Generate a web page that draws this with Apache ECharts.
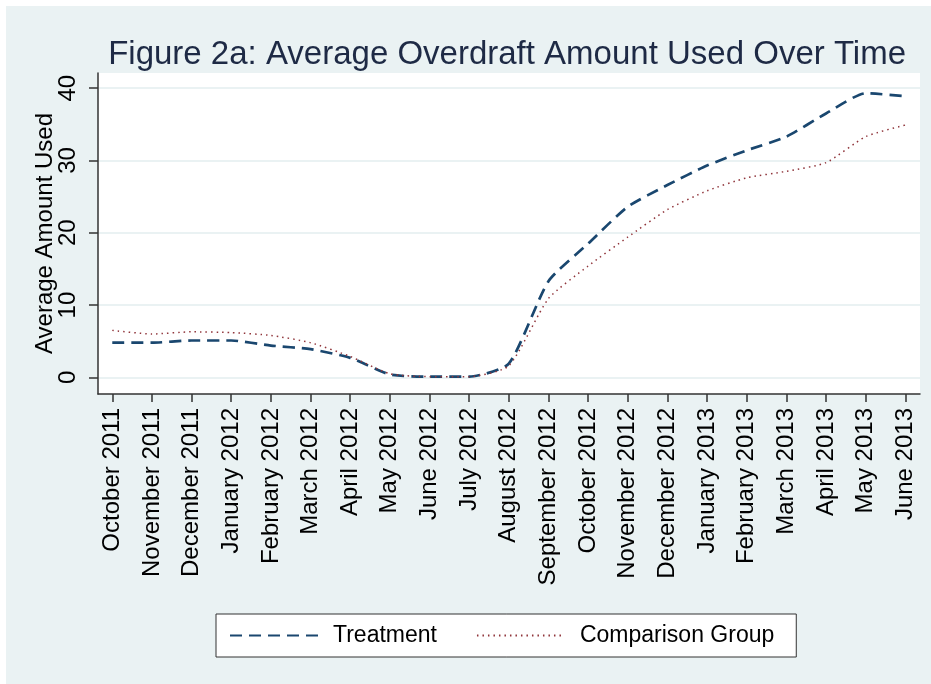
<!DOCTYPE html>
<html>
<head>
<meta charset="utf-8">
<script src="https://cdn.jsdelivr.net/npm/echarts@6/dist/echarts.min.js"></script>
<style>
  html, body { margin: 0; padding: 0; background: #fff; }
  #bg { position: absolute; left: 6px; top: 6px; right: 0; bottom: 0; background: #eaf2f3; }
  #main { position: absolute; left: 0; top: 0; width: 931px; height: 684px; }
</style>
</head>
<body>
<div id="bg"></div>
<div id="main"></div>
<script>
// months on the x axis
var months = ['October 2011', 'November 2011', 'December 2011', 'January 2012', 'February 2012',
    'March 2012', 'April 2012', 'May 2012', 'June 2012', 'July 2012', 'August 2012',
    'September 2012', 'October 2012', 'November 2012', 'December 2012', 'January 2013',
    'February 2013', 'March 2013', 'April 2013', 'May 2013', 'June 2013'];

// average amount used
var treatment = [4.8, 4.8, 5.1, 5.1, 4.4, 3.9, 2.7, 0.4, 0.1, 0.1, 1.9,
    13.3, 18.5, 23.6, 26.6, 29.3, 31.4, 33.3, 36.5, 39.3, 38.9];
var comparison = [6.5, 6.0, 6.3, 6.2, 5.8, 4.8, 2.9, 0.5, 0.1, 0.1, 1.6,
    10.9, 15.4, 19.4, 23.2, 25.8, 27.6, 28.5, 29.7, 33.3, 34.9];

var yTicks = [0, 10, 20, 30, 40];
var xTicks = months.map(function (m, i) { return i; });

function pairs(arr) {
    return arr.map(function (v, i) { return [i, v]; });
}

var myChart = echarts.init(document.getElementById('main'));
myChart.setOption({
    textStyle: { fontFamily: 'Liberation Sans, Arial, sans-serif' },
    title: {
        text: 'Figure 2a: Average Overdraft Amount Used Over Time',
        right: 20,
        top: 33,
        textStyle: { fontSize: 33, fontWeight: 'normal', color: '#1e2a45' }
    },
    grid: {
        left: 98, right: 11, top: 73, bottom: 290,
        show: true, backgroundColor: '#fff', borderWidth: 0
    },
    legend: {
        left: 216,
        top: 614,
        padding: [10, 22, 10, 13],
        itemWidth: 88,
        itemHeight: 20,
        itemGap: 39,
        backgroundColor: '#fff',
        borderColor: '#333',
        borderWidth: 1,
        borderRadius: 0,
        itemStyle: { opacity: 0 },   // no dot in the legend line
        textStyle: { fontSize: 23, color: '#000', padding: [0, 0, 0, 10] },
        data: ['Treatment', 'Comparison Group']
    },
    xAxis: {
        type: 'value',
        min: -0.36,
        max: 20.37,
        axisLine: { onZero: false, lineStyle: { color: '#333', width: 1.5 } },
        axisTick: { customValues: xTicks, length: 8, lineStyle: { color: '#333', width: 1.5 } },
        axisLabel: {
            customValues: xTicks,
            rotate: 90,
            margin: 14,
            fontSize: 24,
            color: '#000',
            formatter: function (v) { return months[v]; }
        },
        splitLine: { show: false }
    },
    yAxis: {
        type: 'value',
        min: -2.3,
        max: 42.1,
        name: 'Average Amount Used',
        nameLocation: 'middle',
        nameRotate: 90,
        nameGap: 41,
        nameMoveOverlap: false,
        nameTextStyle: { fontSize: 24, color: '#000' },
        axisLine: { show: true, onZero: false, lineStyle: { color: '#333', width: 1.5 } },
        axisTick: { show: true, customValues: yTicks, length: 9, lineStyle: { color: '#333', width: 1.5 } },
        axisLabel: { customValues: yTicks, rotate: 90, margin: 18, fontSize: 24, color: '#000' },
        splitLine: { lineStyle: { color: '#eaf2f3', width: 2 } }
    },
    series: [{
        name: 'Treatment',
        type: 'line',
        symbol: 'none',
        smooth: 0.2,
        data: pairs(treatment),
        itemStyle: { color: '#1a476f' },
        lineStyle: { color: '#1a476f', width: 2.7, type: [12, 7] }
    }, {
        name: 'Comparison Group',
        type: 'line',
        symbol: 'none',
        smooth: 0.2,
        data: pairs(comparison),
        itemStyle: { color: '#90353b' },
        lineStyle: { color: '#90353b', width: 1.5, type: [1.5, 4] }
    }]
});
</script>
</body>
</html>
